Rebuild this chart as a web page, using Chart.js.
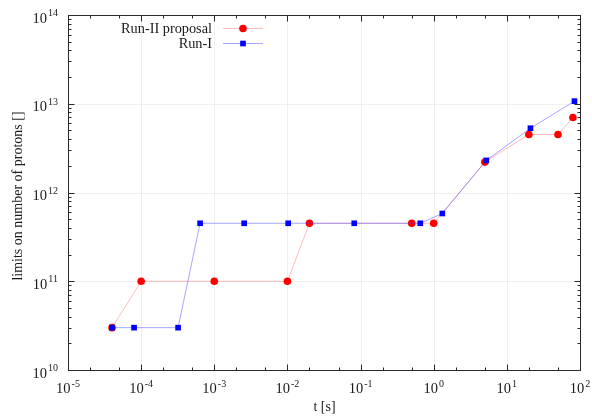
<!DOCTYPE html>
<html>
<head>
<meta charset="utf-8">
<script src="https://cdn.jsdelivr.net/npm/chart.js@4.4.1/dist/chart.umd.min.js"></script>
<style>
  body { margin: 0; background: #fff; }
  #wrap { width: 592px; height: 416px; }
</style>
</head>
<body>
<div id="wrap"><canvas id="limitsChart" width="592" height="416"></canvas></div>
<script>
// data
const runIITimes = [4e-5, 1e-4, 1e-3, 1e-2, 2e-2, 0.5, 1, 5, 20, 50, 80];
const runIILimits = [3e10, 1e11, 1e11, 1e11, 4.5e11, 4.5e11, 4.5e11, 2.2e12, 4.5e12, 4.5e12, 7e12];
const runITimes = [4e-5, 8e-5, 3.2e-4, 6.4e-4, 2.56e-3, 1.024e-2, 8.19e-2, 0.655, 1.31, 5.24, 21, 84];
const runILimits = [3e10, 3e10, 3e10, 4.5e11, 4.5e11, 4.5e11, 4.5e11, 4.5e11, 5.8e11, 2.3e12, 5.3e12, 1.07e13];
const xTickExps = [-5, -4, -3, -2, -1, 0, 1, 2];
const yTickExps = [10, 11, 12, 13, 14];
const xMinor = [2, 5];
const yMinor = [2, 3, 4, 5, 6, 7, 8, 9];

const FONT = '"Liberation Serif", "DejaVu Serif", serif';

function toPoints(xs, ys) {
  return xs.map((x, i) => ({ x: x, y: ys[i] }));
}

// "10" with superscript exponent
function drawPow(ctx, x, y, exp, align) {
  const base = "10", sup = String(exp);
  ctx.font = "14.5px " + FONT;
  const wb = ctx.measureText(base).width;
  ctx.font = "10px " + FONT;
  const ws = ctx.measureText(sup).width;
  const w = wb + ws + 1;
  const x0 = align === "center" ? x - w / 2 : x - w;
  ctx.textAlign = "left";
  ctx.textBaseline = "alphabetic";
  ctx.font = "14.5px " + FONT;
  ctx.fillText(base, x0, y);
  ctx.font = "10px " + FONT;
  ctx.fillText(sup, x0 + wb + 1, y - 6.5);
}

const axesPlugin = {
  id: "gnuplotAxes",
  beforeDatasetsDraw(chart) {
    const { ctx, chartArea: a, scales } = chart;
    const xs = scales.x, ys = scales.y;
    ctx.save();
    // grid
    ctx.strokeStyle = "rgba(0,0,0,0.06)";
    ctx.lineWidth = 1;
    xTickExps.forEach(e => {
      const px = Math.round(xs.getPixelForValue(Math.pow(10, e))) + 0.5;
      ctx.beginPath(); ctx.moveTo(px, a.top); ctx.lineTo(px, a.bottom); ctx.stroke();
    });
    yTickExps.forEach(e => {
      const py = Math.round(ys.getPixelForValue(Math.pow(10, e))) + 0.5;
      ctx.beginPath(); ctx.moveTo(a.left, py); ctx.lineTo(a.right, py); ctx.stroke();
    });
    ctx.restore();
  },
  afterDatasetsDraw(chart) {
    const { ctx, chartArea: a, scales } = chart;
    const xs = scales.x, ys = scales.y;
    const L = Math.round(a.left) + 0.5, R = Math.round(a.right) + 0.5;
    const T = Math.round(a.top) + 0.5, B = Math.round(a.bottom) + 0.5;
    ctx.save();
    ctx.strokeStyle = "#2a2a2a";
    ctx.lineWidth = 1;
    // ticks on all four sides, pointing inwards
    const xTick = (v, len) => {
      const px = Math.round(xs.getPixelForValue(v)) + 0.5;
      ctx.beginPath();
      ctx.moveTo(px, B); ctx.lineTo(px, B - len);
      ctx.moveTo(px, T); ctx.lineTo(px, T + len);
      ctx.stroke();
    };
    const yTick = (v, len) => {
      const py = Math.round(ys.getPixelForValue(v)) + 0.5;
      ctx.beginPath();
      ctx.moveTo(L, py); ctx.lineTo(L + len, py);
      ctx.moveTo(R, py); ctx.lineTo(R - len, py);
      ctx.stroke();
    };
    xTickExps.forEach((e, i) => {
      xTick(Math.pow(10, e), 6);
      if (i < xTickExps.length - 1) xMinor.forEach(m => xTick(m * Math.pow(10, e), 3));
    });
    yTickExps.forEach((e, i) => {
      yTick(Math.pow(10, e), 6);
      if (i < yTickExps.length - 1) yMinor.forEach(m => yTick(m * Math.pow(10, e), 3));
    });
    ctx.strokeRect(L, T, R - L, B - T);

    // tick labels
    ctx.fillStyle = "#1a1a1a";
    xTickExps.forEach(e => {
      drawPow(ctx, xs.getPixelForValue(Math.pow(10, e)), B + 22.5, e, "center");
    });
    yTickExps.forEach(e => {
      drawPow(ctx, L - 10.5, ys.getPixelForValue(Math.pow(10, e)) + 7.5, e, "right");
    });

    // axis titles
    ctx.font = "14px " + FONT;
    ctx.textAlign = "center";
    ctx.textBaseline = "middle";
    ctx.fillText("t [s]", (L + R) / 2, 407);
    ctx.save();
    ctx.translate(18, (T + B) / 2 + 3);
    ctx.rotate(-Math.PI / 2);
    ctx.fillText("limits on number of protons []", 0, 0);
    ctx.restore();

    // legend, gnuplot style: text right-aligned, sample to its right
    chart.data.datasets.forEach((ds, i) => {
      const y = 28 + i * 15;
      ctx.font = "14.3px " + FONT;
      ctx.textAlign = "right";
      ctx.textBaseline = "middle";
      ctx.fillStyle = "#1a1a1a";
      ctx.fillText(ds.label, 212, y + 1);
      ctx.strokeStyle = ds.borderColor;
      ctx.lineWidth = ds.borderWidth;
      ctx.beginPath(); ctx.moveTo(223, y + 0.5); ctx.lineTo(263, y + 0.5); ctx.stroke();
      ctx.fillStyle = ds.pointBackgroundColor;
      if (ds.pointStyle === "rect") {
        const s = ds.pointRadius * Math.SQRT2;
        ctx.fillRect(243 - s / 2, y + 0.5 - s / 2, s, s);
      } else {
        ctx.beginPath(); ctx.arc(243, y + 0.5, ds.pointRadius, 0, Math.PI * 2); ctx.fill();
      }
    });
    ctx.restore();
  }
};

new Chart(document.getElementById("limitsChart").getContext("2d"), {
  type: "scatter",
  data: {
    datasets: [
      {
        label: "Run-II proposal",
        data: toPoints(runIITimes, runIILimits),
        showLine: true,
        borderColor: "rgba(255,90,90,0.4)",
        borderWidth: 1,
        pointStyle: "circle",
        pointRadius: 3.8,
        pointBorderWidth: 0,
        pointBackgroundColor: "#ff0000",
        order: 1
      },
      {
        label: "Run-I",
        data: toPoints(runITimes, runILimits),
        showLine: true,
        borderColor: "rgba(60,60,255,0.45)",
        borderWidth: 1,
        pointStyle: "rect",
        pointRadius: 4,
        pointBorderWidth: 0,
        pointBackgroundColor: "#0000ff",
        order: 0
      }
    ]
  },
  options: {
    responsive: false,
    animation: false,
    layout: { padding: { left: 68, right: 12, top: 15, bottom: 46 } },
    plugins: {
      legend: { display: false },
      tooltip: { enabled: false }
    },
    scales: {
      x: { type: "logarithmic", min: 1e-5, max: 1e2, display: false },
      y: { type: "logarithmic", min: 1e10, max: 1e14, display: false }
    }
  },
  plugins: [axesPlugin]
});
</script>
</body>
</html>
